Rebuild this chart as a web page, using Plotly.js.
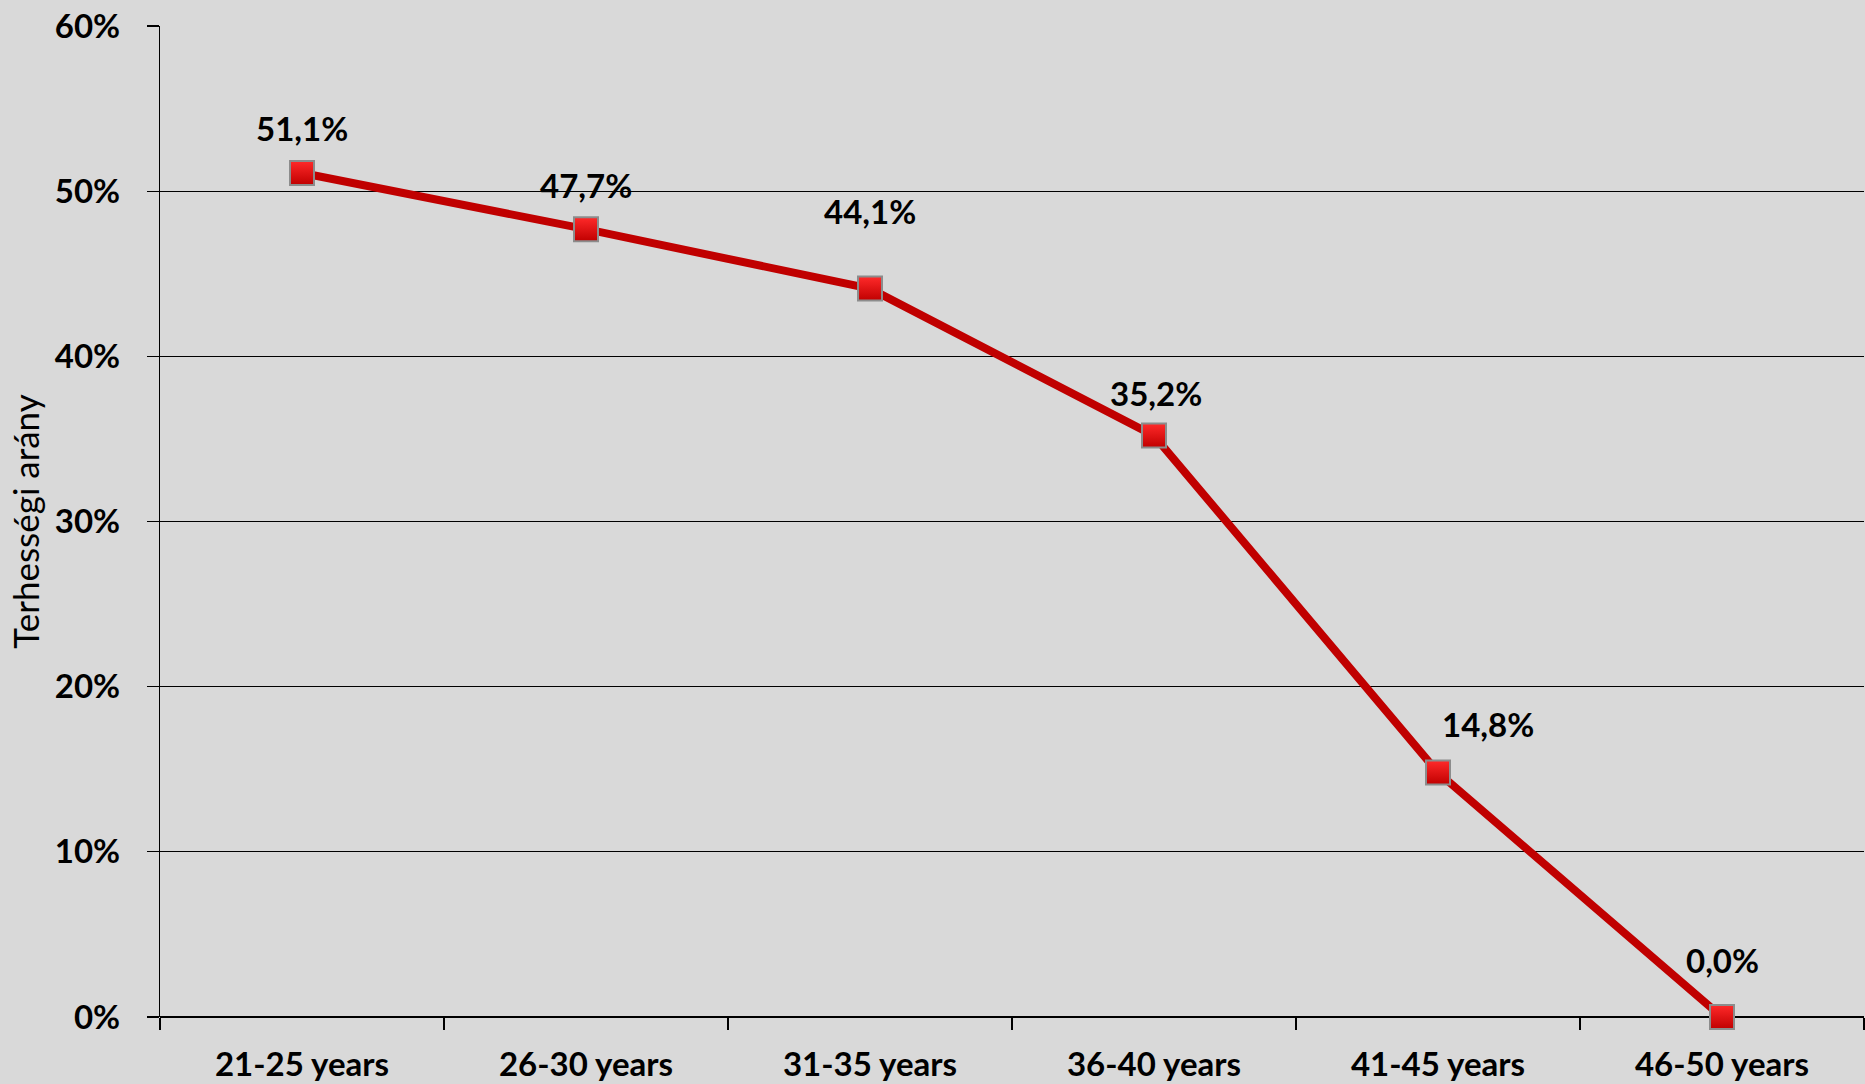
<!DOCTYPE html>
<html>
<head>
<meta charset="utf-8">
<script src="https://cdn.plot.ly/plotly-3.0.1.min.js"></script>
<style>html,body{margin:0;padding:0;background:#D9D9D9;}#chart{width:1865px;height:1084px;}</style>
</head>
<body>
<div id="chart"></div>
<script>
const categories = ['21-25 years', '26-30 years', '31-35 years', '36-40 years', '41-45 years', '46-50 years'];
const rates = [0.511, 0.477, 0.441, 0.352, 0.148, 0.000];
const rateLabels = ['51,1%', '47,7%', '44,1%', '35,2%', '14,8%', '0,0%'];
const yTickVals = [0, 0.1, 0.2, 0.3, 0.4, 0.5, 0.6];
const yTickText = ['0%', '10%', '20%', '30%', '40%', '50%', '60%'];
const yTitle = 'Terhességi arány';

// label placement (style only)
const labelYShift = [45, 44, 78, 43, 49, 57];
const labelXShift = [0, 0, 0, 2, 50, 0];

const FONT = 'Lato, "Open Sans", sans-serif';

const trace = {
  type: 'scatter',
  mode: 'lines+markers',
  x: categories,
  y: rates,
  cliponaxis: false,
  line: {color: '#C00000', width: 8},
  marker: {
    symbol: 'square',
    size: 24,
    color: '#FF2A2A',
    gradient: {type: 'vertical', color: '#C00000'},
    line: {color: '#8C8C8C', width: 2}
  },
  hoverinfo: 'skip',
  showlegend: false
};

const annotations = categories.map((c, i) => ({
  x: c, y: rates[i], xref: 'x', yref: 'y',
  text: rateLabels[i], showarrow: false,
  xanchor: 'center', yanchor: 'middle',
  yshift: labelYShift[i], xshift: labelXShift[i],
  font: {family: FONT, size: 33, color: '#000000', weight: 'bold'}
}));

const layout = {
  width: 1865, height: 1084,
  paper_bgcolor: '#D9D9D9', plot_bgcolor: '#D9D9D9',
  margin: {l: 160, r: 1, t: 26, b: 67, pad: 0},
  font: {family: FONT, color: '#000000'},
  xaxis: {
    type: 'category',
    range: [-0.5, 5.5],
    showgrid: false,
    showline: false,
    zeroline: false,
    ticks: 'outside', ticklen: 12, tickwidth: 1.3, tickcolor: '#000000',
    tickson: 'boundaries',
    tickfont: {family: FONT, size: 33, color: '#000000', weight: 'bold'},
    ticklabelstandoff: 25,
    fixedrange: true
  },
  yaxis: {
    range: [0, 0.6],
    tickvals: yTickVals, ticktext: yTickText,
    showgrid: true, gridcolor: '#000000', gridwidth: 1.3,
    zeroline: true, zerolinecolor: '#000000', zerolinewidth: 1.3,
    showline: true, linecolor: '#000000', linewidth: 1.3,
    ticks: 'outside', ticklen: 12, tickwidth: 1.3, tickcolor: '#000000',
    tickfont: {family: FONT, size: 33, color: '#000000', weight: 'bold'},
    ticklabelstandoff: 20,
    title: {text: yTitle, font: {family: FONT, size: 35, color: '#000000'}, standoff: 4},
    fixedrange: true
  },
  annotations: annotations
};

Plotly.newPlot('chart', [trace], layout, {displayModeBar: false, staticPlot: true});
</script>
</body>
</html>
